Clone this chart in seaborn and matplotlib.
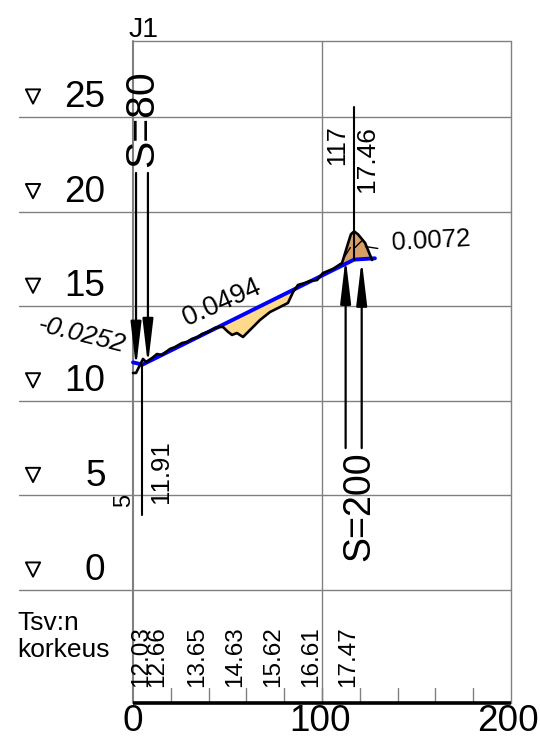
import numpy as np
import pandas as pd
import matplotlib
matplotlib.use("Agg")
import matplotlib.pyplot as plt
import seaborn as sns

sns.set_theme(style="white")
plt.rcParams['font.family'] = ['Liberation Sans', 'DejaVu Sans']

# --- data ---
ground_x = [0.0, 1.6, 3.7, 5.3, 6.9, 10.1, 12.7, 15.3, 19.6, 22.2, 25.9, 28.6, 31.2, 34.4, 36.5,
            39.7, 43.4, 46.0, 47.6, 50.3, 52.4, 55.0, 58.2, 63.5, 67.2, 72.5, 76.7, 82.0, 84.7,
            87.3, 91.0, 93.7, 97.4, 100.5, 105.8, 110.6, 113.2, 115.3, 117.0, 119.0, 122.8, 126.5]
ground_y = [11.47, 11.47, 11.89, 12.21, 12.05, 12.26, 12.47, 12.42, 12.74, 12.84, 13.05, 13.11,
            13.27, 13.37, 13.53, 13.64, 13.85, 13.90, 13.90, 13.64, 13.48, 13.58, 13.37, 13.90,
            14.27, 14.69, 14.90, 15.17, 15.75, 16.12, 16.23, 16.33, 16.38, 16.75, 16.97, 17.28,
            18.13, 18.80, 18.95, 18.80, 18.34, 17.44]
design_x = [0, 5, 117, 128]
design_y = [12.03, 11.91, 17.46, 17.53]
levels = [0, 5, 10, 15, 20, 25]
x_labels = [0, 100, 200]
tsv_x = [4.5, 13, 34, 54, 74, 94, 114]
tsv_labels = ["12.03", "12.66", "13.65", "14.63", "15.62", "16.61", "17.47"]
tick_x = list(range(20, 200, 20))

GRID = "#808080"
X0, X1, Y0, Y1, XL = 0, 200, -5.97, 29.02, -60.3

fig = plt.figure(figsize=(5.4, 7.46), dpi=100)
ax = fig.add_axes([0, 0, 1, 1])
ax.set_xlim(-70.37, 215.34)
ax.set_ylim(-8.245, 31.18)
ax.axis("off")

# frame and grid
for lv in levels:
    ax.plot([XL, X1], [lv, lv], color=GRID, lw=1.0, zorder=1)
ax.plot([X0, X1], [Y1, Y1], color=GRID, lw=1.0, zorder=1)
for vx, lw in [(0, 1.5), (100, 1.0), (200, 1.0)]:
    ax.plot([vx, vx], [Y0, Y1], color=GRID, lw=lw, zorder=1)
for t in tick_x:
    ax.plot([t, t], [Y0, -5.18], color=GRID, lw=1.0, zorder=1)
ax.plot([X0, X1], [Y0, Y0], color="black", lw=2.6, zorder=3, solid_capstyle="butt")

# fills between ground and design line
gx = np.array(ground_x)
gy = np.array(ground_y)
dy = np.interp(gx, design_x, design_y)
ax.fill_between(gx, gy, dy, where=(gy < dy) & (gx > 47) & (gx < 90), color="#FFD98A",
                interpolate=True, lw=0, zorder=2)
ax.fill_between(gx, gy, dy, where=(gy > dy) & (gx > 108), color="#D9A066",
                interpolate=True, lw=0, zorder=2)

# lines via seaborn
sns.lineplot(x=design_x, y=design_y, sort=False, color="#0000FF", lw=2.8, ax=ax, zorder=4,
             errorbar=None, legend=False)
sns.lineplot(x=ground_x, y=ground_y, sort=False, color="black", lw=1.9, ax=ax, zorder=5,
             errorbar=None, legend=False)

# hill hachures
ax.plot([111.5, 115], [17.55, 18.1], color="black", lw=1.0, zorder=5)
ax.plot([117.5, 121], [18.1, 18.45], color="black", lw=1.0, zorder=5)
ax.plot([123, 129.5], [18.15, 18.05], color="black", lw=1.0, zorder=5)

# level markers
df = pd.DataFrame({"x": [-52.9] * len(levels), "y": [lv + 1.08 for lv in levels]})
sns.scatterplot(data=df, x="x", y="y", marker="v", s=105, facecolors="none", edgecolor="black",
                linewidth=1.4, ax=ax, zorder=5, legend=False)
for lv in levels:
    ax.text(-14.5, lv + 1.02, str(lv), fontsize=26.6, color="black", ha="right", va="center")

# x labels
for v in x_labels:
    ax.text(v * 0.992, -6.95, str(v), fontsize=26.6, color="black", ha="center", va="center")

# Tsv labels
for x, s in zip(tsv_x, tsv_labels):
    ax.text(x, -5.12, s, fontsize=17.5, rotation=90, color="black", ha="center", va="bottom", zorder=6)

ax.text(-61, -1.75, "Tsv:n", fontsize=19, ha="left", va="center", color="black")
ax.text(-61, -3.15, "korkeus", fontsize=19, ha="left", va="center", color="black")
ax.text(-2.6, 28.9, "J1", fontsize=20.5, ha="left", va="bottom", color="black")

# arrows
def arrow(x, y_from, y_to):
    ax.annotate("", xy=(x, y_to), xytext=(x, y_from), zorder=6,
                arrowprops=dict(arrowstyle="-|>,head_length=27,head_width=3.2",
                                mutation_scale=1, lw=1.6, color="black",
                                shrinkA=0, shrinkB=0))

arrow(1.6, 22.04, 11.75)
arrow(7.9, 22.04, 11.9)
arrow(112.5, 7.5, 17.55)
arrow(121, 7.5, 17.45)

# vertical leaders
ax.plot([117, 117], [17.46, 25.5], color="black", lw=1.5, zorder=6)
ax.plot([4.8, 4.8], [11.91, 3.95], color="black", lw=1.5, zorder=6)

# rotated labels
ax.text(5, 22.35, "S=80", fontsize=29.5, rotation=90, ha="center", va="bottom", color="black", zorder=7)
ax.text(120, 1.55, "S=200", fontsize=27, rotation=90, ha="center", va="bottom", color="black", zorder=7)
ax.text(108, 23.5, "117", fontsize=18, rotation=90, ha="center", va="center", color="black")
ax.text(124, 22.8, "17.46", fontsize=19, rotation=90, ha="center", va="center", color="black")
ax.text(15, 6.25, "11.91", fontsize=18.5, rotation=90, ha="center", va="center", color="black")
ax.text(-4.5, 4.72, "5", fontsize=17, rotation=90, ha="center", va="center", color="black")
ax.text(47, 15.2, "0.0494", fontsize=19.5, rotation=24, ha="center", va="center", color="black",
        rotation_mode="anchor")
ax.text(157.5, 18.45, "0.0072", fontsize=18.5, rotation=3, ha="center", va="center", color="black",
        rotation_mode="anchor")
ax.text(-27, 13.45, "-0.0252", fontsize=19, rotation=-14, style="italic", ha="center", va="center",
        color="black", rotation_mode="anchor")

fig.savefig("out.png", dpi=100)
